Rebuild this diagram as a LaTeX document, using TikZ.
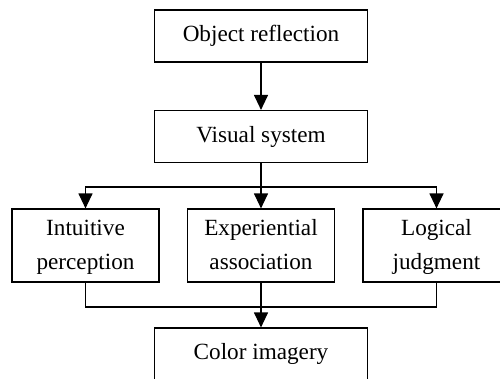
\documentclass[tikz,border=0pt]{standalone}
\usepackage{fontspec}
\setmainfont{Liberation Serif}
\usetikzlibrary{arrows.meta}
\tikzset{
  box/.style={draw, line width=1pt, align=center, inner sep=0pt,
    font=\fontsize{19.8}{29}\selectfont},
  onebox/.style={box, minimum width=6.39cm, minimum height=1.56cm},
  twobox/.style={box, minimum width=4.41cm, minimum height=2.19cm},
  flow/.style={-{Triangle[length=0.45cm,width=0.42cm]}, line width=1pt},
  link/.style={line width=1pt}
}
\begin{document}
\begin{tikzpicture}[x=0.03cm, y=-0.03cm]
    \useasboundingbox (0,0) rectangle (500,378);
    \clip (0,0) rectangle (500,378);
    \node[onebox] (obj) at (261,36) {Object reflection};
    \node[onebox] (vis) at (261,136.5) {Visual system};
    \node[twobox] (int) at (85.5,245.5) {Intuitive\strut\\perception\strut};
    \node[twobox] (exp) at (261,245.5) {Experiential\strut\\association\strut};
    \node[twobox] (log) at (436.5,245.5) {Logical\strut\\judgment\strut};
    \node[onebox] (col) at (261,354) {Color imagery};
    \coordinate (split) at (261,187);
    \coordinate (merge) at (261,307);
    \draw[flow] (obj) -- (vis);
    \draw[link] (vis) -- (split);
    \draw[flow] (split) -| (int);
    \draw[flow] (split) -- (exp);
    \draw[flow] (split) -| (log);
    \draw[link] (int) |- (merge);
    \draw[link] (log) |- (merge);
    \draw[flow] (exp) -- (col);
\end{tikzpicture}
\end{document}
